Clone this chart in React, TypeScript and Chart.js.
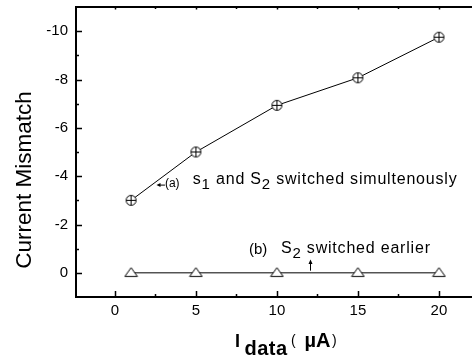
import React, { useEffect, useRef } from "react";
import { Chart, registerables } from "chart.js";

Chart.register(...registerables);

// ---- data ----
const currents = [1, 5, 10, 15, 20];
const mismatchSimultaneous = [-3.0, -5.0, -6.93, -8.07, -9.75];
const mismatchEarlier = [0, 0, 0, 0, 0];
const xTickValues = [0, 5, 10, 15, 20];
const xMinorValues = [2.5, 7.5, 12.5, 17.5];
const yTickValues = [0, -2, -4, -6, -8, -10];
const yMinorValues = [-1, -3, -5, -7, -9];

const FONT = "'Liberation Sans', Arial, Helvetica, sans-serif";

function makeCirclePlus(): HTMLCanvasElement {
  const c = document.createElement("canvas");
  c.width = 13;
  c.height = 13;
  const g = c.getContext("2d")!;
  g.fillStyle = "#fff";
  g.strokeStyle = "#000";
  g.lineWidth = 1;
  g.beginPath();
  g.arc(6.5, 6.5, 5, 0, Math.PI * 2);
  g.fill();
  g.stroke();
  g.beginPath();
  g.moveTo(1.5, 6.5);
  g.lineTo(11.5, 6.5);
  g.moveTo(6.5, 1.5);
  g.lineTo(6.5, 11.5);
  g.stroke();
  return c;
}

function makeTriangle(): HTMLCanvasElement {
  const c = document.createElement("canvas");
  c.width = 15;
  c.height = 12;
  const g = c.getContext("2d")!;
  g.fillStyle = "#fff";
  g.strokeStyle = "#000";
  g.lineWidth = 1;
  g.beginPath();
  g.moveTo(7.5, 0.8);
  g.lineTo(1.2, 9.6);
  g.lineTo(13.8, 9.6);
  g.closePath();
  g.fill();
  g.stroke();
  return c;
}

type Part = { t: string; font: string; dy?: number; ls?: number };

function drawParts(ctx: CanvasRenderingContext2D, parts: Part[], x: number, y: number) {
  let cx = x;
  for (const p of parts) {
    ctx.font = p.font;
    (ctx as any).letterSpacing = (p.ls ?? 0) + "px";
    ctx.fillText(p.t, cx, y + (p.dy ?? 0));
    cx += ctx.measureText(p.t).width;
  }
  (ctx as any).letterSpacing = "0px";
}

const zeroPad = (s: any) => {
  s.paddingTop = 0;
  s.paddingBottom = 0;
  s.paddingLeft = 0;
  s.paddingRight = 0;
};

const decorPlugin = {
  id: "decor",
  afterDraw(chart: any) {
    const ctx: CanvasRenderingContext2D = chart.ctx;
    const xs = chart.scales.x;
    const ys = chart.scales.y;
    const area = chart.chartArea;
    ctx.save();
    ctx.strokeStyle = "#000";
    ctx.fillStyle = "#000";
    ctx.lineWidth = 1.5;
    // inward ticks
    ctx.beginPath();
    for (const v of xTickValues) {
      const px = Math.round(xs.getPixelForValue(v)) + 0.5;
      ctx.moveTo(px, area.bottom);
      ctx.lineTo(px, area.bottom - 6);
      ctx.moveTo(px, area.top);
      ctx.lineTo(px, area.top + 2.5);
    }
    for (const v of xMinorValues) {
      const px = Math.round(xs.getPixelForValue(v)) + 0.5;
      ctx.moveTo(px, area.bottom);
      ctx.lineTo(px, area.bottom - 3);
      ctx.moveTo(px, area.top);
      ctx.lineTo(px, area.top + 2);
    }
    for (const v of yTickValues) {
      const py = Math.round(ys.getPixelForValue(v)) + 0.5;
      ctx.moveTo(area.left, py);
      ctx.lineTo(area.left + 6, py);
    }
    for (const v of yMinorValues) {
      const py = Math.round(ys.getPixelForValue(v)) + 0.5;
      ctx.moveTo(area.left, py);
      ctx.lineTo(area.left + 3, py);
    }
    ctx.stroke();

    // annotations
    const P = (x: number, y: number) => [xs.getPixelForValue(x), ys.getPixelForValue(y)];
    ctx.textBaseline = "alphabetic";
    ctx.textAlign = "left";
    const f16 = `16px ${FONT}`;
    const f15 = `15px ${FONT}`;

    let [ax, ay] = P(3.09, -3.57);
    drawParts(ctx, [{ t: "(a)", font: `12px ${FONT}` }], ax, ay);
    // arrow (a) pointing left
    let [a1x, a1y] = P(3.09, -3.63);
    let [a2x] = P(2.57, -3.63);
    ctx.lineWidth = 1;
    ctx.beginPath();
    ctx.moveTo(a1x, a1y);
    ctx.lineTo(a2x + 3, a1y);
    ctx.stroke();
    ctx.beginPath();
    ctx.moveTo(a2x, a1y);
    ctx.lineTo(a2x + 4, a1y - 2);
    ctx.lineTo(a2x + 4, a1y + 2);
    ctx.closePath();
    ctx.fill();

    let [mx, my] = P(4.81, -3.69);
    drawParts(
      ctx,
      [
        { t: "s", font: f16, ls: 0.8 },
        { t: "1", font: f15, dy: 5, ls: 0.8 },
        { t: " and S", font: f16, ls: 0.8 },
        { t: "2", font: f15, dy: 5, ls: 0.8 },
        { t: " switched simultenously", font: f16, ls: 0.8 },
      ],
      mx,
      my
    );

    let [bx, by] = P(8.27, -0.8);
    drawParts(ctx, [{ t: "(b)", font: f15 }], bx, by);
    let [sx, sy] = P(10.25, -0.84);
    drawParts(
      ctx,
      [
        { t: "S", font: f16, ls: 0.8 },
        { t: "2", font: f15, dy: 5, ls: 0.8 },
        { t: " switched earlier", font: f16, ls: 0.8 },
      ],
      sx,
      sy
    );
    // up arrow (b)
    let [ux, uy1] = P(12.04, -0.09);
    let [, uy2] = P(12.04, -0.55);
    ux = Math.round(ux) + 0.5;
    ctx.beginPath();
    ctx.moveTo(ux, uy1);
    ctx.lineTo(ux, uy2 + 3);
    ctx.stroke();
    ctx.beginPath();
    ctx.moveTo(ux, uy2);
    ctx.lineTo(ux - 2, uy2 + 4.5);
    ctx.lineTo(ux + 2, uy2 + 4.5);
    ctx.closePath();
    ctx.fill();

    // axis titles
    ctx.save();
    ctx.translate(31, 180);
    ctx.rotate(-Math.PI / 2);
    ctx.textAlign = "center";
    ctx.font = `22.5px ${FONT}`;
    ctx.fillText("Current Mismatch", 0, 0);
    ctx.restore();

    ctx.textAlign = "left";
    const tb = 347;
    ctx.font = `bold 18px ${FONT}`;
    ctx.fillText("I", 235, tb);
    ctx.font = `bold 20px ${FONT}`;
    (ctx as any).letterSpacing = "0.5px";
    ctx.fillText("data", 244.5, tb + 8);
    (ctx as any).letterSpacing = "0px";
    ctx.font = `14px ${FONT}`;
    ctx.fillText("(", 291, tb - 2);
    ctx.font = `bold 20px ${FONT}`;
    ctx.fillText("\u00B5A", 304.5, tb);
    const endA = 304.5 + ctx.measureText("\u00B5A").width;
    ctx.font = `14px ${FONT}`;
    ctx.fillText(")", endA + 1.5, tb - 2);

    ctx.restore();
  },
};

export default function App() {
  const ref = useRef<HTMLCanvasElement | null>(null);

  useEffect(() => {
    if (!ref.current) return;
    const circlePlus = makeCirclePlus();
    const triangle = makeTriangle();
    const chart = new Chart(ref.current, {
      type: "line",
      data: {
        datasets: [
          {
            label: "(a)",
            data: currents.map((x, i) => ({ x, y: mismatchSimultaneous[i] })),
            borderColor: "#000",
            borderWidth: 1,
            pointStyle: circlePlus as any,
            pointRadius: 6,
            fill: false,
          },
          {
            label: "(b)",
            data: currents.map((x, i) => ({ x, y: mismatchEarlier[i] })),
            borderColor: "#000",
            borderWidth: 1,
            pointStyle: triangle as any,
            pointRadius: 6,
            fill: false,
          },
        ],
      },
      options: {
        animation: false,
        responsive: false,
        layout: { padding: 0, autoPadding: false },
        plugins: {
          legend: { display: false },
          tooltip: { enabled: false },
        },
        scales: {
          x: {
            type: "linear",
            position: "bottom",
            min: -2.4,
            max: 22.04,
            afterBuildTicks: (s: any) => {
              s.ticks = xTickValues.map((v) => ({ value: v }));
            },
            afterFit: (s: any) => {
              s.height = 63;
              zeroPad(s);
            },
            grid: { display: false, drawTicks: false },
            border: { display: true, color: "#000", width: 2 },
            ticks: {
              color: "#000",
              font: { family: FONT, size: 15 },
              padding: 5,
              maxRotation: 0,
            },
          },
          x2: {
            type: "linear",
            position: "top",
            min: -2.4,
            max: 22.04,
            afterFit: (s: any) => {
              s.height = 7;
              zeroPad(s);
            },
            grid: { display: false, drawTicks: false },
            border: { display: true, color: "#000", width: 2 },
            ticks: { display: false },
          },
          y: {
            type: "linear",
            reverse: true,
            min: -11,
            max: 1,
            afterBuildTicks: (s: any) => {
              s.ticks = yTickValues.map((v) => ({ value: v }));
            },
            afterFit: (s: any) => {
              s.width = 76;
              zeroPad(s);
            },
            grid: { display: false, drawTicks: false },
            border: { display: true, color: "#000", width: 2 },
            ticks: {
              color: "#000",
              font: { family: FONT, size: 15 },
              padding: 8,
            },
          },
        },
      },
      plugins: [decorPlugin],
    });
    return () => chart.destroy();
  }, []);

  return (
    <div style={{ position: "fixed", left: 0, top: 0, width: 472, height: 360, background: "#fff" }}>
      <canvas ref={ref} width={472} height={360} style={{ display: "block", width: 472, height: 360 }} />
    </div>
  );
}
